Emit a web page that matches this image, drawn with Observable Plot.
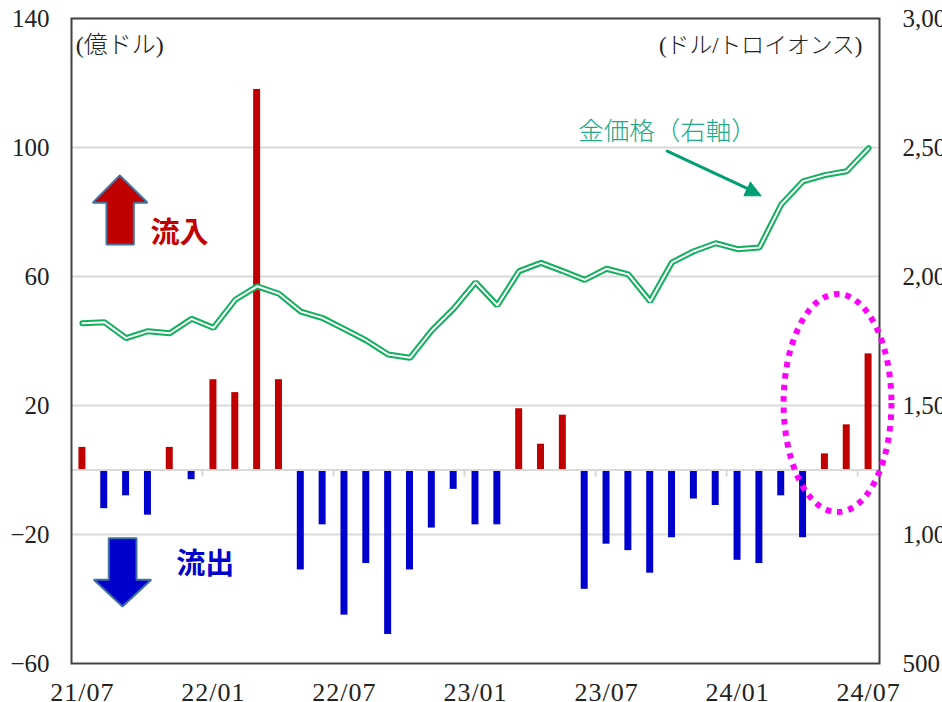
<!DOCTYPE html>
<html lang="ja">
<head>
<meta charset="utf-8">
<script src="https://cdn.jsdelivr.net/npm/d3@7"></script>
<script src="https://cdn.jsdelivr.net/npm/@observablehq/plot@0.6"></script>
<style>
html,body{margin:0;padding:0;background:#fff;overflow:hidden}
svg{display:block}
g[aria-label="x-axis tick label"] text{letter-spacing:1px}
</style>
</head>
<body>
<div id="chart"></div>
<script>
const months = ["21/07","21/08","21/09","21/10","21/11","21/12","22/01","22/02","22/03","22/04","22/05","22/06","22/07","22/08","22/09","22/10","22/11","22/12","23/01","23/02","23/03","23/04","23/05","23/06","23/07","23/08","23/09","23/10","23/11","23/12","24/01","24/02","24/03","24/04","24/05","24/06","24/07"];
const flowValues = [7,-12,-8,-14,7,-3,28,24,118,28,-31,-17,-45,-29,-51,-31,-18,-6,-17,-17,19,8,17,-37,-23,-25,-32,-21,-9,-11,-28,-29,-8,-21,5,14,36];
const goldPrice = [1819,1823,1761,1788,1780,1836,1801,1910,1962,1933,1864,1839,1796,1752,1698,1685,1791,1875,1977,1888,2021,2053,2021,1987,2030,2008,1904,2055,2098,2129,2106,2112,2279,2369,2393,2408,2497];

const leftTicks = [140,100,60,20,-20,-60];
const rightTicks = [3000,2500,2000,1500,1000,500];
const gridValues = [100,60,20,-20];
const xLabelIndex = [0,6,12,18,24,30,36];
const zeroTickIndex = [5.5,11.5,17.5,23.5,29.5,35.5];

const upArrow = [[1.712,91.3],[2.98,82.85],[2.353,82.85],[2.353,69.9],[1.103,69.9],[1.103,82.85],[0.475,82.85],[1.712,91.3]];
const downArrow = [[1.208,-21.15],[2.476,-21.15],[2.476,-34.05],[3.15,-34.05],[1.835,-42.3],[0.521,-34.05],[1.208,-34.05],[1.208,-21.15]];
const pointerShaft = [[26.78,98.85],[30.44,87.3]];
const pointerHead = [[30.59,89.24],[31.08,85.02],[30.29,85.02],[30.59,89.24]];
const ellipseSpec = {cx:34.6, cy:20.6, rx:2.47, ry:33.8};

const priceToLeft = p => p / 12.5 - 100;
const bars = flowValues.map((v,i) => ({i, v}));
const gold = goldPrice.map((p,i) => ({i, y: priceToLeft(p)}));
const barHalf = 0.16;
const sans = '"Liberation Serif","Noto Sans CJK JP",serif';
const fmtLeft = d => (d < 0 ? "\u2212" + (-d) : String(d));
const fmtRight = d3.format(",");

function ellipseMark(index, scales) {
  const x0 = scales.x(ellipseSpec.cx), y0 = scales.y(ellipseSpec.cy);
  const rx = Math.abs(scales.x(ellipseSpec.cx + ellipseSpec.rx) - x0);
  const ry = Math.abs(scales.y(ellipseSpec.cy + ellipseSpec.ry) - y0);
  const el = document.createElementNS("http://www.w3.org/2000/svg","ellipse");
  el.setAttribute("cx",x0); el.setAttribute("cy",y0);
  el.setAttribute("rx",rx); el.setAttribute("ry",ry);
  el.setAttribute("fill","none"); el.setAttribute("stroke","#ff00ff");
  el.setAttribute("stroke-width","6"); el.setAttribute("stroke-dasharray","5.5 6");
  return el;
}

const chart = Plot.plot({
  width: 942, height: 702,
  marginLeft: 71, marginRight: 63, marginTop: 18, marginBottom: 39,
  style: {fontFamily: sans, background: "#fff", color: "#222", overflow: "hidden"},
  x: {type: "linear", domain: [-0.5,36.5], label: null},
  y: {type: "linear", domain: [-60,140], label: null},
  marks: [
    Plot.ruleY(gridValues, {stroke:"#d9d9d9", strokeWidth:2}),
    Plot.rectY(bars, {
      x1: d => d.i - barHalf, x2: d => d.i + barHalf, y1: 0, y2: "v",
      fill: d => d.v > 0 ? "#c00000" : "#0000cc", inset: 0
    }),
    Plot.ruleY([0], {stroke:"#d9d9d9", strokeWidth:2}),
    Plot.ruleX(zeroTickIndex, {y1:0, y2:-2.2, stroke:"#d9d9d9", strokeWidth:2}),
    Plot.line(gold, {x:"i", y:"y", stroke:"#10b05c", strokeWidth:6, strokeLinejoin:"miter"}),
    Plot.line(gold, {x:"i", y:"y", stroke:"#ffffff", strokeWidth:2, strokeLinejoin:"miter"}),
    Plot.frame({stroke:"#404040", strokeWidth:2}),
    Plot.axisY({ticks:leftTicks, tickFormat:fmtLeft, tickSize:0, tickPadding:22, fontSize:25, label:null, anchor:"left", fill:"#222"}),
    Plot.axisY({ticks:leftTicks, tickFormat:(d,i) => fmtRight(rightTicks[i]), tickSize:0, tickPadding:23, fontSize:25, label:null, anchor:"right", fill:"#222"}),
    Plot.axisX({ticks:xLabelIndex, tickFormat:i => months[i], tickSize:0, tickPadding:19, fontSize:26, label:null, fill:"#222"}),
    Plot.line(upArrow, {x:d=>d[0], y:d=>d[1], fill:"#c00000", stroke:"#41719c", strokeWidth:2, strokeLinejoin:"miter"}),
    Plot.line(downArrow, {x:d=>d[0], y:d=>d[1], fill:"#0000cc", stroke:"#41719c", strokeWidth:2, strokeLinejoin:"miter"}),
    Plot.line(pointerShaft, {x:d=>d[0], y:d=>d[1], stroke:"#009e73", strokeWidth:3}),
    Plot.line(pointerHead, {x:d=>d[0], y:d=>d[1], fill:"#009e73", stroke:"#009e73", strokeWidth:1}),
    Plot.text(["(億ドル)"], {x:-0.3, y:131.6, textAnchor:"start", fontSize:24, fill:"#222", fontWeight:300}),
    Plot.text(["(ドル/トロイオンス)"], {x:35.72, y:131.6, textAnchor:"end", fontSize:22.8, fill:"#222", fontWeight:300}),
    Plot.text(["金価格（右軸）"], {x:22.7, y:105, textAnchor:"start", fontSize:25.5, fill:"#22a98a", fontWeight:300}),
    Plot.text(["流入"], {x:3.12, y:73.3, textAnchor:"start", fontSize:29, fontWeight:700, fill:"#c00000"}),
    Plot.text(["流出"], {x:4.3, y:-29.3, textAnchor:"start", fontSize:29, fontWeight:700, fill:"#0000cc"}),
    ellipseMark
  ]
});
document.getElementById("chart").appendChild(chart);
</script>
</body>
</html>
